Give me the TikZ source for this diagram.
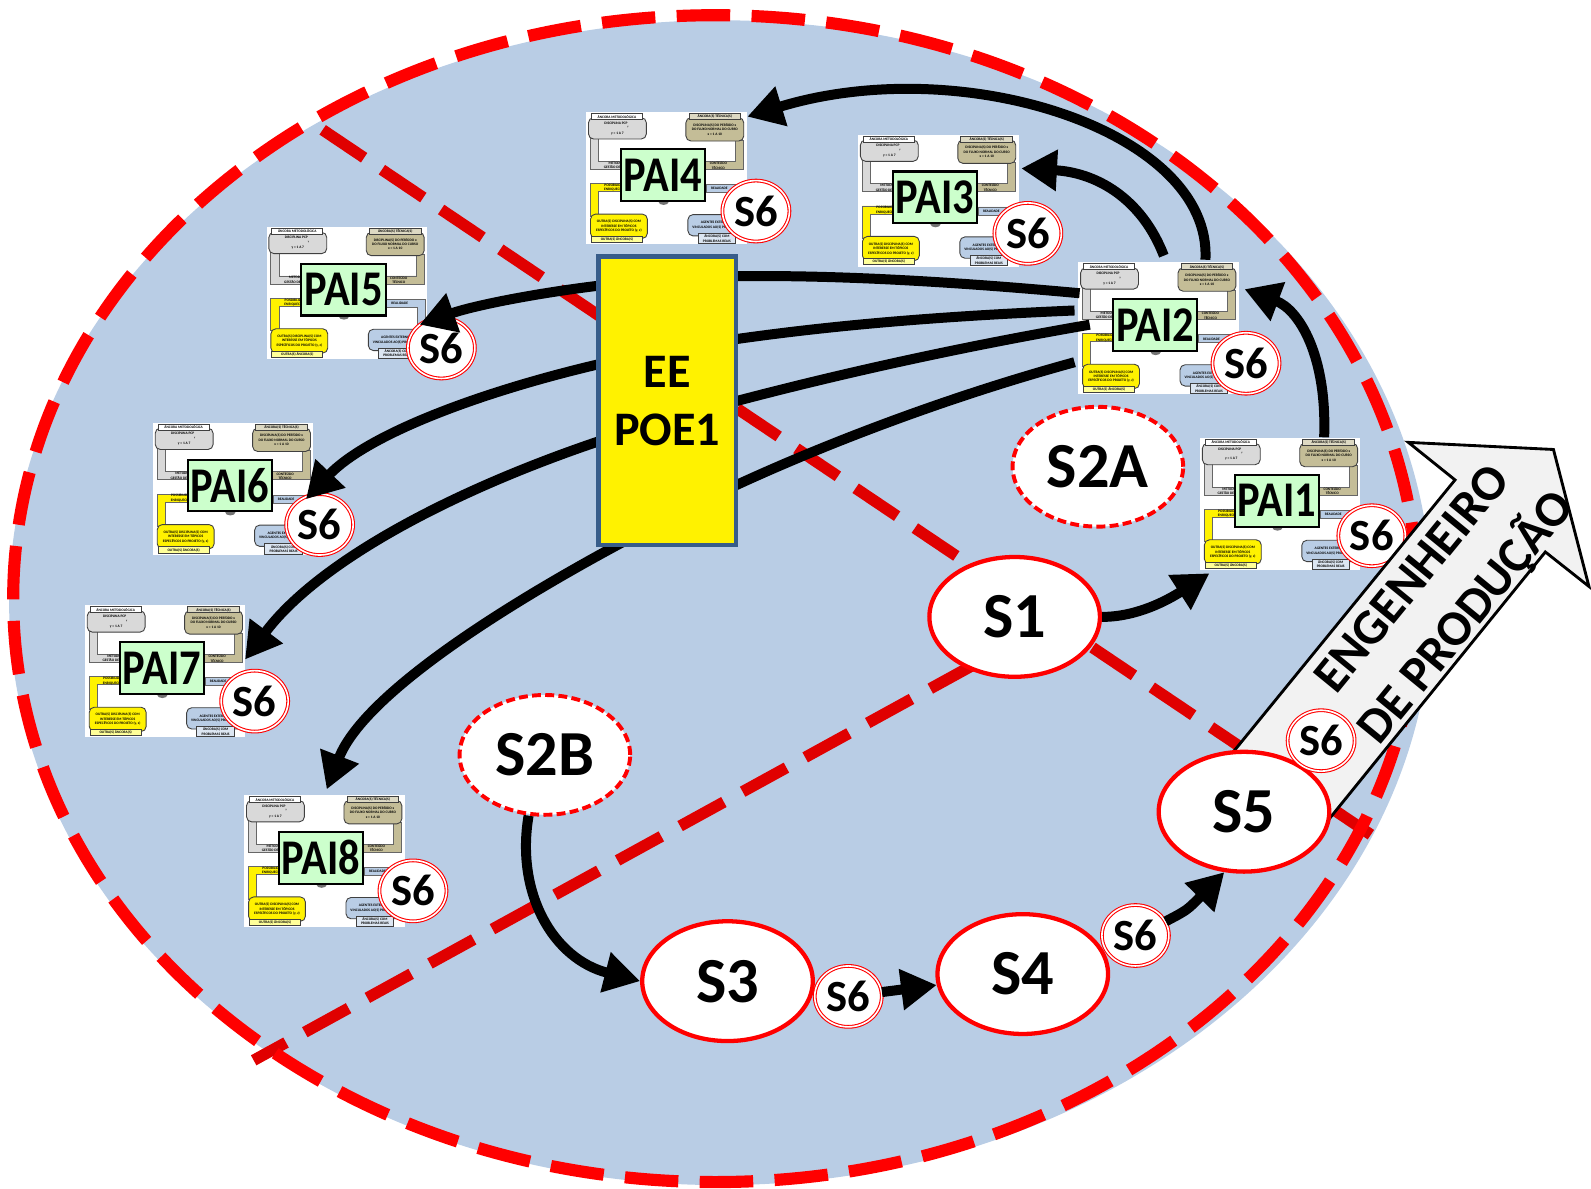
\documentclass[tikz,border=0pt]{standalone}
\usepackage{fontspec}
\setmainfont{Carlito}
\usepackage{graphicx}
\usetikzlibrary{shapes.geometric,arrows.meta,calc}

\definecolor{fundo}{HTML}{B9CDE5}
\definecolor{contorno}{HTML}{FF0000}
\definecolor{linhadiv}{HTML}{E00000}
\definecolor{bordaee}{HTML}{385D8A}
\definecolor{verdepai}{HTML}{CCFFCC}
\definecolor{cinzamet}{HTML}{D9D9D9}
\definecolor{bege}{HTML}{C4BD97}
\definecolor{begeclaro}{HTML}{DDD9C3}
\definecolor{azulreal}{HTML}{B9CDE5}
\definecolor{azulclaro}{HTML}{DCE6F2}
\definecolor{amareloclaro}{HTML}{FFFF99}
\definecolor{setacinza}{HTML}{F2F2F2}

\newcommand{\minifont}{\fontsize{1}{1.25}\selectfont\bfseries}

\tikzset{
  etapa/.style={ellipse, draw=contorno, line width=1.2pt, fill=white, minimum width=1.68cm, minimum height=1.18cm, inner sep=0pt, font=\fontsize{18}{18}\selectfont\bfseries},
  etapatrac/.style={etapa, line width=1.1pt, dash pattern=on 2.5pt off 1.2pt},
  sseis/.style={ellipse, draw=contorno, double=white, double distance=0.45pt, line width=0.3pt, fill=white, minimum width=0.66cm, minimum height=0.6cm, inner sep=0pt, font=\fontsize{12.5}{12.5}\selectfont\bfseries},
  seta/.style={line width=2.8pt, -{Triangle[length=10pt,width=11pt]}},
  divisa/.style={linhadiv, line width=3.2pt, dash pattern=on 14pt off 6pt},
  ee/.style={draw=bordaee, line width=1.2pt, fill=yellow, minimum width=1.35cm, minimum height=2.84cm, align=center, font=\fontsize{13.5}{16.2}\selectfont\bfseries},
  engtxt/.style={rotate=50.7, inner sep=0pt, font=\fontsize{14}{14}\selectfont\bfseries},
  minitxt/.style={font=\minifont, align=center, inner sep=0pt},
  minicaixa/.style={minitxt, draw=black!75, line width=0.25pt, rounded corners=0.5mm},
  minirot/.style={minitxt, draw=black!75, line width=0.25pt, fill=white, minimum height=0.06cm},
  miniperna/.style={draw=black!60, line width=0.25pt},
  pics/pai/.style={code={
    \node[fill=white, minimum width=1.58cm, minimum height=1.3cm, inner sep=0pt, anchor=north west] (-frame) at (0,0) {};
    % pernas das ancoras
    \filldraw[miniperna, fill=cinzamet] (5,26) -- (13,26) -- (13,49) -- (40,49) -- (40,57) -- (5,57) -- cycle;
    \filldraw[miniperna, fill=bege] (148,28) -- (156,28) -- (156,57) -- (118,57) -- (118,49) -- (148,49) -- cycle;
    \filldraw[miniperna, fill=yellow] (5,71) -- (38,71) -- (38,79) -- (13,79) -- (13,103) -- (5,103) -- cycle;
    \filldraw[miniperna, fill=azulreal] (119,72) -- (157,72) -- (157,104) -- (149,104) -- (149,80) -- (119,80) -- cycle;
    \node[minitxt] (-metod) at (34,53) {METODOLOGIA\\GESTÃO DE PROJETOS};
    \node[minitxt] (-cont) at (131,53) {CONTEÚDO\\TÉCNICO};
    \node[minitxt] (-poss) at (32,75) {POSSIBILIDADE DE\\ENRIQUECIMENTO};
    \node[minitxt] (-real) at (132,76) {REALIDADE};
    % ancoras
    \node[minicaixa, fill=cinzamet, minimum width=0.57cm, minimum height=0.21cm] (-pcp) at (31.5,16.5) {DISCIPLINA PCP\textsubscript{y}\\y = 1 A 7};
    \node[minirot, minimum width=0.5cm] (-anmet) at (31,5) {ÂNCORA METODOLÓGICA};
    \node[minicaixa, fill=bege, minimum width=0.57cm, minimum height=0.23cm] (-disc) at (127.5,17.5) {DISCIPLINA(S) DO PERÍODO x\\DO FLUXO NORMAL DO CURSO\\x = 1 A 10};
    \node[minirot, fill=begeclaro, minimum width=0.51cm] (-antec) at (127.5,5) {ÂNCORA(S) TÉCNICA(S)};
    \node[minicaixa, fill=yellow, minimum width=0.56cm, minimum height=0.24cm] (-outras) at (33,113) {OUTRA(S) DISCIPLINA(S) COM\\INTERESSE EM TÓPICOS\\ESPECÍFICOS DO PROJETO (y, z)};
    \node[minirot, fill=amareloclaro, minimum width=0.5cm] (-outanc) at (31,126) {OUTRA(S) ÂNCORA(S)};
    \node[minicaixa, fill=azulreal, minimum width=0.55cm, minimum height=0.21cm] (-agentes) at (128.5,112) {AGENTES EXTERNOS\\VINCULADOS AO(S) PROJETO(S)};
    \node[minirot, fill=azulclaro, minimum width=0.37cm, minimum height=0.1cm] (-probl) at (129.5,125) {ÂNCORA(S) COM\\PROBLEMAS REAIS};
    \fill[black!55] (77,89) ellipse [x radius=5, y radius=3];
    \node[draw=black, line width=0.6pt, fill=verdepai, minimum width=0.83cm, minimum height=0.51cm, inner sep=0pt, font=\fontsize{14}{14}\selectfont\bfseries] (-name) at (76.5,62.5) {\scalebox{0.85}[1]{#1}};
  }},
}

\begin{document}
\begin{tikzpicture}[x=0.01cm, y=-0.01cm]
\useasboundingbox (0,0) rectangle (1568,1171);

% fundo azul
\fill[fundo] (710,594) ellipse [x radius=701, y radius=574];

% linhas divisorias
\draw[divisa] (318,128) -- (1362,830);
\draw[divisa] (960,655) -- (250,1045);

% PAIs
\pic (pai1) at (1182,431) {pai=PAI1};
\pic (pai2) at (1062,258) {pai=PAI2};
\pic (pai3) at (845,132) {pai=PAI3};
\pic (pai4) at (577,110) {pai=PAI4};
\pic (pai5) at (262,223) {pai=PAI5};
\pic (pai6) at (150,416) {pai=PAI6};
\pic (pai7) at (83,596) {pai=PAI7};
\pic (pai8) at (240,783) {pai=PAI8};

\node[sseis] (s6pai1) at (1352,528) {S6};
\node[sseis] (s6pai2) at (1228,358) {S6};
\node[sseis] (s6pai3) at (1013,230) {S6};
\node[sseis] (s6pai4) at (745,208) {S6};
\node[sseis] (s6pai5) at (435,343) {S6};
\node[sseis] (s6pai6) at (315,517) {S6};
\node[sseis] (s6pai7) at (251,691) {S6};
\node[sseis] (s6pai8) at (407,878) {S6};

% setas entre PAIs
\draw[seta] ($(pai2-frame.north west)+(2,31)$) .. controls (900,274) and (760,268) .. (657,275) .. controls (560,282) and (470,300) .. ($(pai5-frame.north east)+(-8,97)$);
\draw[seta] ($(pai2-frame.north west)+(-3,48)$) .. controls (920,312) and (790,322) .. (657,345) .. controls (520,370) and (370,420) .. ($(pai6-frame.north east)+(-8,76)$);
\draw[seta] ($(pai2-frame.north west)+(12,62)$) .. controls (900,350) and (760,385) .. (657,414) .. controls (480,465) and (320,545) .. ($(pai7-frame.north east)+(-1,54)$);
\draw[seta] ($(pai2-frame.north west)+(-3,99)$) .. controls (920,395) and (780,450) .. (680,500) .. controls (520,580) and (360,680) .. ($(pai8-frame.north west)+(82,-5)$);
\draw[seta] ($(pai2-frame.north west)+(85,-6)$) .. controls (1125,195) and (1080,170) .. ($(pai3-frame.north east)+(2,34)$);
\draw[seta] ($(pai2-frame.north west)+(126,-2)$) .. controls (1195,130) and (950,50) .. ($(pai4-frame.north east)+(0,5)$);
\draw[seta] ($(pai1-frame.north west)+(123,0)$) .. controls (1308,350) and (1280,305) .. ($(pai2-frame.north east)+(5,27)$);

% EE POE1
\node[ee] (ee) at (657.5,395) {EE\\POE1};

% contorno
\draw[contorno, line width=3.4pt, dash pattern=on 15pt off 6pt] (705,590) ellipse [x radius=692, y radius=575];

% seta do engenheiro
\filldraw[fill=setacinza, draw=black, line width=0.8pt] (1200,760) -- (1434,473) -- (1388,436) -- (1531,443) -- (1566,578) -- (1523,544) -- (1289,833) -- cycle;
\node[engtxt] (engenheiro) at (1391,570) {ENGENHEIRO};
\node[engtxt] (producao) at (1444,608) {DE PRODUÇÃO};

% etapas
\node[etapa] (s1) at (1000,608) {S1};
\node[etapatrac] (s2a) at (1082,460) {S2A};
\node[etapatrac] (s2b) at (537,744) {S2B};
\node[etapa] (s3) at (717,967) {S3};
\node[etapa] (s4) at (1008,960) {S4};
\node[etapa] (s5) at (1226,800) {S5};
\node[sseis] (s6a) at (836,982) {S6};
\node[sseis] (s6b) at (1119,922) {S6};
\node[sseis] (s6c) at (1302,730) {S6};

\draw[seta] (s1.east) .. controls (1120,608) and (1150,592) .. ($(pai1-frame.north west)+(10,134)$);
\draw[seta] (s2b.-105) .. controls (508,880) and (545,945) .. (s3.west);
\draw[seta] (s6a) -- (s4);
\draw[seta] (s6b.25) .. controls (1170,897) .. (s5.-108);
\end{tikzpicture}
\end{document}
